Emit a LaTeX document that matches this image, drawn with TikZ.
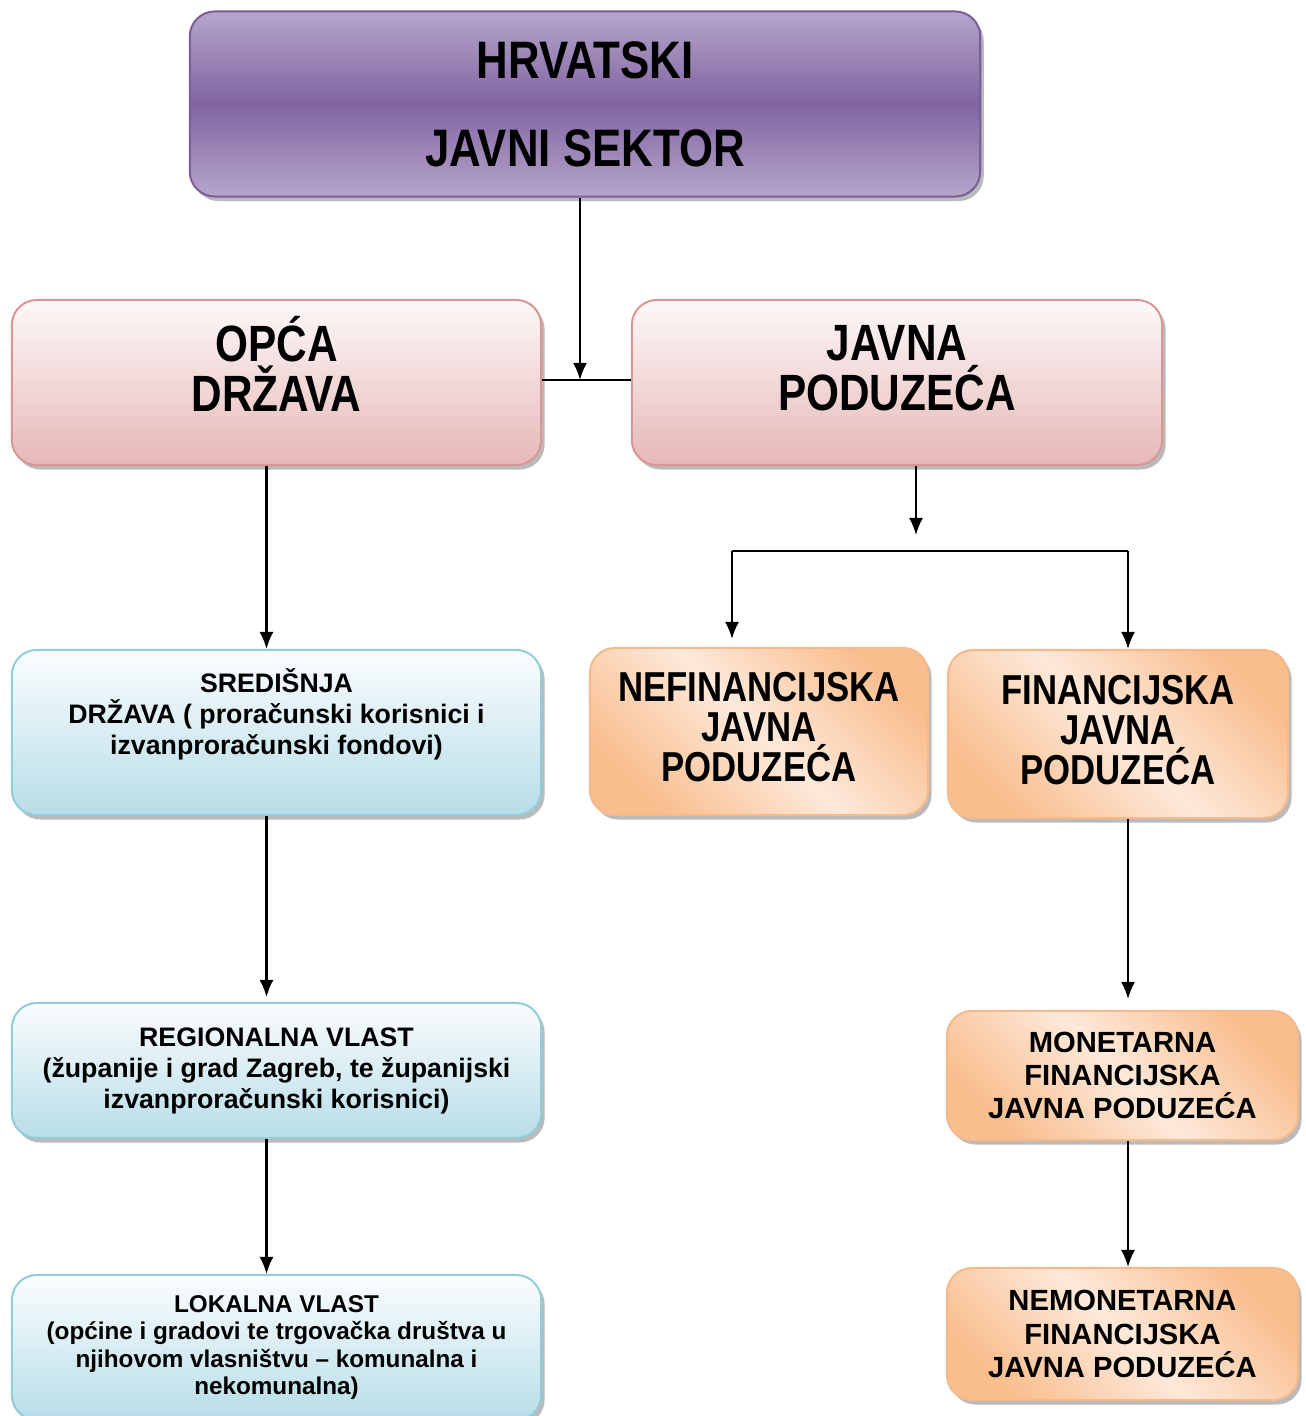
\documentclass[tikz,border=0pt]{standalone}
\usepackage{fontspec}
\setmainfont{Liberation Sans}
\newfontfamily\uska[FakeStretch=0.83]{Liberation Sans}
\usepackage{tikz}
\usetikzlibrary{arrows.meta}
\usetikzlibrary{shadows}
\definecolor{ljubrub}{HTML}{7A5E9C}
\definecolor{ljubsvj}{HTML}{B6A6CA}
\definecolor{ljubtam}{HTML}{8064A2}
\definecolor{ruzrub}{HTML}{D99694}
\definecolor{ruzsvj}{HTML}{FDF9F9}
\definecolor{ruztam}{HTML}{E6B8B7}
\definecolor{plarub}{HTML}{92CDDC}
\definecolor{plasvj}{HTML}{FBFDFE}
\definecolor{platam}{HTML}{B7DDE8}
\definecolor{narrub}{HTML}{F5B98C}
\definecolor{narsvj}{HTML}{FDE9DA}
\definecolor{nartam}{HTML}{F9BE8E}
\tikzset{
   kutija/.style={
      rounded corners=0.25cm, line width=0.02cm, align=center, inner sep=0pt,
      drop shadow={shadow xshift=0.035cm, shadow yshift=-0.045cm,
         fill=black!45, opacity=0.6}},
   ljubicasta/.style={kutija, draw=ljubrub,
      top color=ljubsvj, bottom color=ljubsvj, middle color=ljubtam},
   ruzicasta/.style={kutija, draw=ruzrub,
      top color=ruzsvj, bottom color=ruztam},
   plava/.style={kutija, draw=plarub,
      top color=plasvj, bottom color=platam},
   narancasta/.style={kutija, draw=narrub,
      top color=nartam, bottom color=nartam, middle color=narsvj,
      shading angle=-45},
   strelica/.style={line width=0.02cm, -{Latex[length=0.17cm,width=0.14cm]}},
   crta/.style={line width=0.02cm},
   }

\begin{document}
\begin{tikzpicture}[x=0.01cm, y=-0.01cm]
            \useasboundingbox (0,0) rectangle (1305,1416);
            % vrh
            \node[ljubicasta, minimum width=7.9cm, minimum height=1.85cm,
               font=\uska\bfseries\fontsize{15}{25}\selectfont]
               (sektor) at (585,104) {HRVATSKI\\JAVNI SEKTOR};
            % druga razina
            \node[ruzicasta, minimum width=5.29cm, minimum height=1.65cm,
               label={[yshift=0.19cm, align=center,
                  font=\uska\bfseries\fontsize{14.5}{14.2}\selectfont]center:{OPĆA\\DRŽAVA}}]
               (opca) at (276.5,382.5) {};
            \node[ruzicasta, minimum width=5.3cm, minimum height=1.65cm,
               label={[yshift=0.14cm, align=center,
                  font=\uska\bfseries\fontsize{14.5}{14.2}\selectfont]center:{JAVNA\\PODUZEĆA}}]
               (javna) at (897,382.5) {};
            % opca drzava
            \node[plava, minimum width=5.29cm, minimum height=1.65cm,
               label={[yshift=0.18cm, align=center,
                  font=\bfseries\fontsize{7.6}{8.8}\selectfont]center:{SREDIŠNJA\\DRŽAVA ( proračunski korisnici i\\izvanproračunski fondovi)}}]
               (sred) at (276.5,732.5) {};
            \node[plava, minimum width=5.29cm, minimum height=1.35cm,
               font=\bfseries\fontsize{7.6}{8.8}\selectfont]
               (reg) at (276.5,1070.5) {REGIONALNA VLAST\\(županije i grad Zagreb, te županijski\\izvanproračunski korisnici)};
            \node[plava, minimum width=5.29cm, minimum height=1.45cm,
               font=\bfseries\fontsize{6.9}{7.8}\selectfont]
               (lok) at (276.5,1347.5) {LOKALNA VLAST\\(općine i gradovi te trgovačka društva u\\njihovom vlasništvu – komunalna i\\nekomunalna)};
            % javna poduzeca
            \node[narancasta, minimum width=3.38cm, minimum height=1.67cm,
               label={[yshift=0.04cm, align=center,
                  font=\uska\bfseries\fontsize{11.9}{11.4}\selectfont]center:{NEFINANCIJSKA\\JAVNA\\PODUZEĆA}}]
               (nefin) at (759,731.5) {};
            \node[narancasta, minimum width=3.4cm, minimum height=1.68cm,
               label={[yshift=0.04cm, align=center,
                  font=\uska\bfseries\fontsize{11.9}{11.4}\selectfont]center:{FINANCIJSKA\\JAVNA\\PODUZEĆA}}]
               (fin) at (1118,734) {};
            \node[narancasta, minimum width=3.51cm, minimum height=1.29cm,
               font=\bfseries\fontsize{8.3}{9.5}\selectfont]
               (mon) at (1122.5,1075.5) {MONETARNA\\FINANCIJSKA\\JAVNA PODUZEĆA};
            \node[narancasta, minimum width=3.51cm, minimum height=1.32cm,
               font=\bfseries\fontsize{8.3}{9.5}\selectfont]
               (nemon) at (1122.5,1334) {NEMONETARNA\\FINANCIJSKA\\JAVNA PODUZEĆA};
            % veze
            \coordinate (spoj) at (580,380);
            \coordinate (grana) at (916,535);
            \coordinate (lijevo) at (732,551);
            \coordinate (desno) at (1128,551);
            \draw[crta] (opca.east |- spoj) -- (javna.west |- spoj);
            \draw[strelica] (sektor.south -| spoj) -- (spoj);
            \draw[strelica] ([xshift=-0.1cm]opca.south) -- ([xshift=-0.1cm]sred.north);
            \draw[strelica] ([xshift=-0.1cm]sred.south) -- ([yshift=0.05cm, xshift=-0.1cm]reg.north);
            \draw[strelica] ([xshift=-0.1cm]reg.south) -- ([xshift=-0.1cm]lok.north);
            \draw[strelica] (javna.south -| grana) -- (grana);
            \draw[crta] (lijevo) -- (desno);
            \draw[strelica] (lijevo) -- ([yshift=0.08cm]lijevo |- nefin.north);
            \draw[strelica] (desno) -- (desno |- fin.north);
            \draw[strelica] (desno |- fin.south) -- ([yshift=0.11cm]desno |- mon.north);
            \draw[strelica] (desno |- mon.south) -- (desno |- nemon.north);
        \end{tikzpicture}
\end{document}
